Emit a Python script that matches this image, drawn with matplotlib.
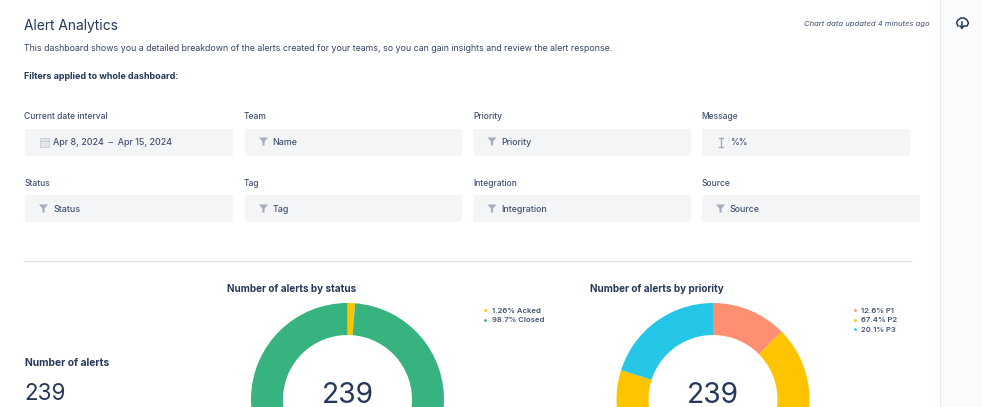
import matplotlib
matplotlib.use("Agg")
import matplotlib.pyplot as plt
from matplotlib.patches import FancyBboxPatch, Polygon, Rectangle

plt.rcParams['font.family'] = ['Inter', 'DejaVu Sans']

W, H = 999, 407
NAVY = "#253858"
TEXT = "#42526E"
ICON = "#A5ADBA"

# filter labels and box contents
row1_labels = ["Current date interval", "Team", "Priority", "Message"]
row1_values = ["Apr 8, 2024  –  Apr 15, 2024", "Name", "Priority", "%%"]
row2_labels = ["Status", "Tag", "Integration", "Source"]
row2_values = ["Status", "Tag", "Integration", "Source"]

# donut data (percent)
status_names = ["Acked", "Closed"]
status_values = [1.26, 98.7]
status_labels = ["1.26%", "98.7%"]
status_colors = ["#FFC400", "#36B37E"]

priority_names = ["P1", "P2", "P3"]
priority_values = [12.6, 67.4, 20.1]
priority_labels = ["12.6%", "67.4%", "20.1%"]
priority_colors = ["#FF8F73", "#FFC400", "#26C6E6"]

total_alerts = 239

fig = plt.figure(figsize=(W / 100, H / 100), dpi=100, facecolor="white")
ax = fig.add_axes([0, 0, 1, 1])
ax.set_xlim(0, W)
ax.set_ylim(H, 0)
ax.axis("off")
ax.set_zorder(5)


def px(size):
    return size * 72 / 100


def label(x, y, s, size=9.5, color=TEXT, weight="normal", **kw):
    ax.text(x, y + 0.8, s, fontsize=px(size), color=color, fontweight=weight, va="center", **kw)


def funnel(x, y):
    ax.add_patch(Polygon([(x, y), (x + 9, y), (x + 5.6, y + 4), (x + 5.6, y + 8), (x + 3.4, y + 8), (x + 3.4, y + 4)],
                         closed=True, facecolor=ICON, edgecolor="none"))


def calendar(x, y):
    ax.add_patch(Rectangle((x + 0.5, y + 1), 9, 9, facecolor="#E4E6EA", edgecolor="#C1C7D0", linewidth=0.5))
    ax.plot([x + 0.5, x + 9.5], [y + 3.5, y + 3.5], color="#C1C7D0", linewidth=0.6)


def ibeam(x, y):
    ax.plot([x, x], [y, y + 9], color=ICON, linewidth=1)
    for yy in (y, y + 9):
        ax.plot([x - 2, x + 2], [yy, yy], color=ICON, linewidth=1)


def filter_box(x0, x1, y0, y1):
    ax.add_patch(FancyBboxPatch((x0 + 1, y0 + 1), x1 - x0 - 2, y1 - y0 - 2, boxstyle="round,pad=1,rounding_size=1.5",
                                facecolor="#F4F5F7", edgecolor="none"))


def donut(cx, cy, radius, inner, values, colors):
    # axes is sized in pixels so the ring lands where it does in the screenshot
    a = fig.add_axes([(cx - radius) / W, 1 - (cy + radius) / H, 2 * radius / W, 2 * radius / H])
    a.pie(values, colors=colors, startangle=90, counterclock=False, radius=1,
          wedgeprops={"width": (radius - inner) / radius, "linewidth": 0})
    a.set_xlim(-1, 1)
    a.set_ylim(-1, 1)
    a.patch.set_alpha(0)


# sidebar
ax.add_patch(Rectangle((940, 0), 41.5, H, facecolor="#FAFBFC", edgecolor="none"))
ax.plot([940, 940], [0, H], color="#EBECF0", linewidth=0.8)

# cloud download icon
ax.plot([958, 956.5, 958, 961, 964, 967, 968.5, 967, 965], [26, 23, 20, 18, 18, 20, 23, 26, 26],
        color=NAVY, linewidth=1.1)
ax.plot([962, 962], [22, 28], color=NAVY, linewidth=1.1)
ax.plot([960, 962, 964], [26, 28, 26], color=NAVY, linewidth=1.1)

# header
label(24.5, 25, "Alert Analytics", size=13.8, color=NAVY)
label(24.5, 48, "This dashboard shows you a detailed breakdown of the alerts created for your teams, "
      "so you can gain insights and review the alert response.", size=8.8, color="#344563")
label(24.5, 75.5, "Filters applied to whole dashboard:", size=9, color=NAVY, weight="bold")
label(930, 23, "Chart data updated 4 minutes ago", size=7.7, color=TEXT, style="italic", ha="right")

# filter grid
label_x = [24.5, 244, 473, 701.5]
box_x1 = [(25, 233), (245, 462), (473.5, 691), (702, 910)]
box_x2 = [(25, 233), (245, 462), (473.5, 691), (702, 920)]
icon_x = [39, 259, 487.5, 716]
value_x = [53, 272.5, 501.5, 730]

for i in range(4):
    label(label_x[i], 116, row1_labels[i], size=8.5, color=TEXT, weight="medium")
    filter_box(box_x1[i][0], box_x1[i][1], 129, 155.5)
    label(value_x[i], 142, row1_values[i], size=8.9, color=TEXT, weight="medium")
    label(label_x[i], 182.5, row2_labels[i], size=8.5, color=TEXT, weight="medium")
    filter_box(box_x2[i][0], box_x2[i][1], 195, 222)
    label(value_x[i], 209, row2_values[i], size=8.9, color=TEXT, weight="medium")
    funnel(icon_x[i], 204.5)
    if i == 0:
        calendar(icon_x[i], 137)
    elif i == 3:
        ibeam(720.5, 137.5)
    else:
        funnel(icon_x[i], 137.5)

# divider
ax.plot([24, 911], [261, 261], color="#DFE1E6", linewidth=1)

# big number
label(25, 362.5, "Number of alerts", size=10.3, color=NAVY, weight="bold")
label(24.5, 393, str(total_alerts), size=22.4, color=NAVY)

# status donut
label(292, 288, "Number of alerts by status", size=9.9, color=NAVY, weight="bold", ha="center")
donut(347.5, 399.5, 96.5, 64.5, status_values, status_colors)

# priority donut
label(656.5, 288, "Number of alerts by priority", size=9.9, color=NAVY, weight="bold", ha="center")
donut(713, 399.5, 96.5, 64.5, priority_values, priority_colors)

# center totals
label(347.5, 394.5, str(total_alerts), size=28.2, color=NAVY, ha="center")
label(713, 394.5, str(total_alerts), size=28.2, color=NAVY, ha="center")

# legends
for i, name in enumerate(status_names):
    y = 310 + i * 9.5
    ax.scatter([485], [y], s=4, color=status_colors[i], linewidths=0)
    label(492, y, f"{status_labels[i]} {name}", size=7.7, color=TEXT, weight="semibold")

for i, name in enumerate(priority_names):
    y = 310 + i * 9.5
    ax.scatter([854.5], [y], s=4, color=priority_colors[i], linewidths=0)
    label(861, y, f"{priority_labels[i]} {name}", size=7.7, color=TEXT, weight="semibold")

fig.savefig("out.png", dpi=100)
